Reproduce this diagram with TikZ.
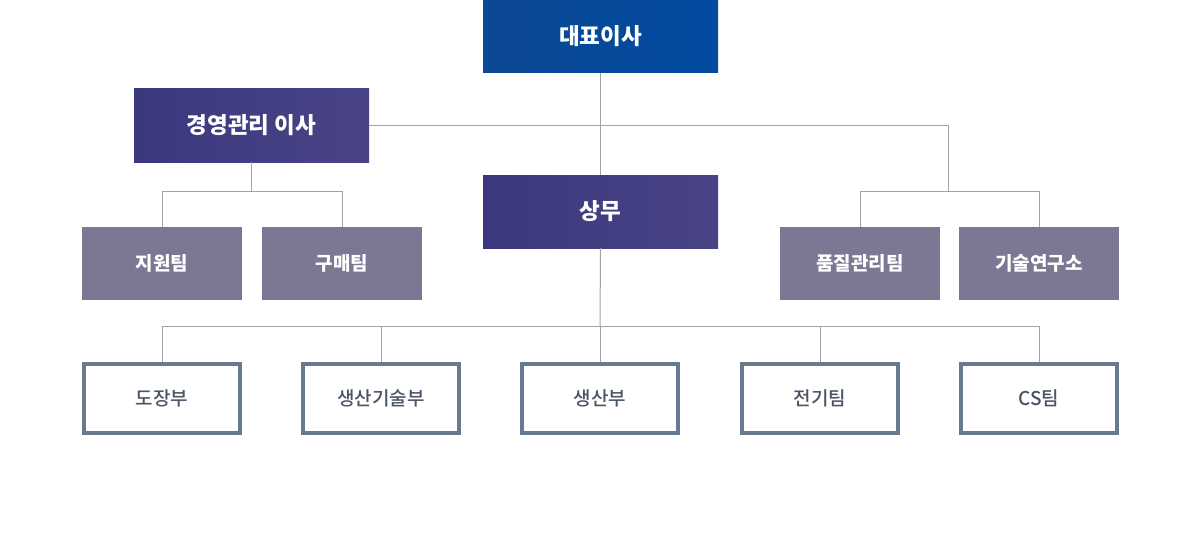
\documentclass[tikz,border=0pt]{standalone}
\usepackage{fontspec}
\setmainfont{Noto Sans CJK KR}
\newfontfamily\krmed{Noto Sans CJK KR Medium}
\begin{document}
\begin{tikzpicture}[x=1pt,y=-1pt,
  blueBox/.style={minimum width=235pt,minimum height=73pt,inner sep=0pt,shading=axis,left color=bL,middle color=bM,right color=bR,text=white,font=\bfseries\fontsize{22.5}{26}\selectfont},
  purpBox/.style={minimum width=235pt,minimum height=73pt,inner sep=0pt,shading=axis,left color=pL,middle color=pM,right color=pR,text=white,font=\bfseries\fontsize{22.5}{26}\selectfont},
  grayBox/.style={minimum width=160pt,minimum height=73pt,inner sep=0pt,fill=gB,text=white,font=\bfseries\fontsize{19}{22}\selectfont},
  outBox/.style={minimum width=156pt,minimum height=69pt,inner sep=0pt,draw=oB,line width=4pt,fill=white,text=tX,font=\krmed\fontsize{19}{22}\selectfont},
  conn/.style={draw=lnC,line width=1pt}
]
\definecolor{bL}{HTML}{0C4893}
\definecolor{bM}{HTML}{1A5CA8}
\definecolor{bR}{HTML}{004AA0}
\definecolor{pL}{HTML}{3C387E}
\definecolor{pM}{HTML}{544F91}
\definecolor{pR}{HTML}{484486}
\definecolor{gB}{HTML}{7A7892}
\definecolor{oB}{HTML}{687A8E}
\definecolor{tX}{HTML}{4A5464}
\definecolor{lnC}{HTML}{A3A3A3}
\useasboundingbox (0,0) rectangle (1200,535);
\fill[white] (0,0) rectangle (1200,535);

\node[blueBox] (ceo) at (600.5,36.5) {대표이사};
\node[purpBox] (mgmt) at (251.5,125.5) {경영관리 이사};
\node[purpBox] (sm) at (600.5,211.5) {상무};
\node[grayBox] (sup) at (162,263.5) {지원팀};
\node[grayBox] (buy) at (342,263.5) {구매팀};
\node[grayBox] (qc) at (860,263.5) {품질관리팀};
\node[grayBox] (rnd) at (1039,263.5) {기술연구소};
\node[outBox] (paint) at (162,398.5) {도장부};
\node[outBox] (ptech) at (381,398.5) {생산기술부};
\node[outBox] (prod) at (600,398.5) {생산부};
\node[outBox] (elec) at (820,398.5) {전기팀};
\node[outBox] (cs) at (1039,398.5) {CS팀};

\coordinate (j1) at (948,125.5);
\coordinate (jm) at (251.5,191);
\coordinate (jq) at (948,191);
\coordinate (jb) at (600,326);

\path[conn] (ceo.south) -- (sm.north);
\path[conn] (mgmt.east) -- (j1) -- (jq);
\path[conn] (mgmt.south) -- (jm);
\path[conn] (jm) -| (sup.north);
\path[conn] (jm) -| (buy.north);
\path[conn] (jq) -| (qc.north);
\path[conn] (jq) -| (rnd.north);
\path[conn] (sm.south) -- (jb);
\path[conn] (jb) -| (paint.north);
\path[conn] (jb) -| (ptech.north);
\path[conn] (jb) -- (prod.north);
\path[conn] (jb) -| (elec.north);
\path[conn] (jb) -| (cs.north);
\end{tikzpicture}
\end{document}
